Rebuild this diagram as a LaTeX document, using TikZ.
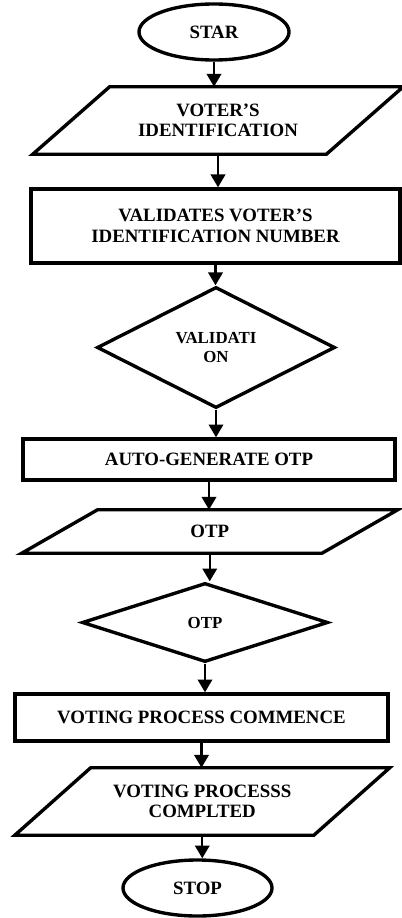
\documentclass[tikz,border=0pt]{standalone}
\usepackage{fontspec}
\setmainfont{Liberation Serif}
\usepackage{tikz}
\usetikzlibrary{shapes.geometric}
\usetikzlibrary{arrows.meta}
\usetikzlibrary{calc}

\newcommand{\slantbox}[2]{%
  \draw[boxline] ($(#1.north west)+(#2,0)$) -- ($(#1.north east)+(#2,0)$) -- ($(#1.south east)-(#2,0)$) -- ($(#1.south west)-(#2,0)$) -- cycle;}

\begin{document}
\begin{tikzpicture}[x=0.025cm,y=-0.025cm,
    boxline/.style={line width=2.4pt,line join=miter},
    boxtext/.style={font=\bfseries\fontsize{13.4}{14.5}\selectfont,align=center,inner sep=1pt},
    terminal/.style={ellipse,draw,boxline,boxtext,minimum width=3.75cm,minimum height=1.4cm},
    process/.style={rectangle,draw,boxline,boxtext},
    inout/.style={rectangle,boxtext},
    decision/.style={diamond,draw,boxline,aspect=2,inner sep=1pt,align=center,font=\bfseries\fontsize{12}{13.5}\selectfont},
    flowarrow/.style={line width=1.7pt,-{Triangle[length=3.2mm,width=3.6mm]}}]
        \useasboundingbox (0,0) rectangle (401,918);

        \node[terminal] (start) at (214,32) {STAR};
        \node[inout,minimum width=7.325cm,minimum height=1.675cm] (id) at (218,120.5) {VOTER'S\\IDENTIFICATION};
        \node[process,minimum width=9.225cm,minimum height=1.85cm] (val) at (215.5,226) {VALIDATES VOTER'S\\IDENTIFICATION NUMBER};
        \node[decision,minimum width=5.95cm,minimum height=3.025cm] (chk) at (216,347.5) {VALIDATI\\ON};
        \node[process,minimum width=9.3cm,minimum height=1.025cm] (gen) at (209,459.5) {AUTO-GENERATE OTP};
        \node[inout,minimum width=7.49cm,minimum height=1.075cm] (otp) at (209.75,531.5) {OTP};
        \node[decision,minimum width=6.15cm,minimum height=1.975cm] (otpchk) at (205,622.5) {OTP};
        \node[process,minimum width=9.325cm,minimum height=1.175cm] (vote) at (201.5,717.5) {VOTING PROCESS COMMENCE};
        \node[inout,minimum width=7.46cm,minimum height=1.675cm] (done) at (202.25,801.5) {VOTING PROCESSS\\COMPLTED};
        \node[terminal,minimum width=3.725cm] (stop) at (197.5,888) {STOP};

        \slantbox{id}{38.5}
        \slantbox{otp}{38}
        \slantbox{done}{38}

        \foreach \a/\b in {start/id,id/val,val/chk,chk/gen,gen/otp,otp/otpchk,otpchk/vote,vote/done,done/stop}
            \draw[flowarrow] (\a.south) -- (\a.south |- \b.north);
    \end{tikzpicture}
\end{document}
